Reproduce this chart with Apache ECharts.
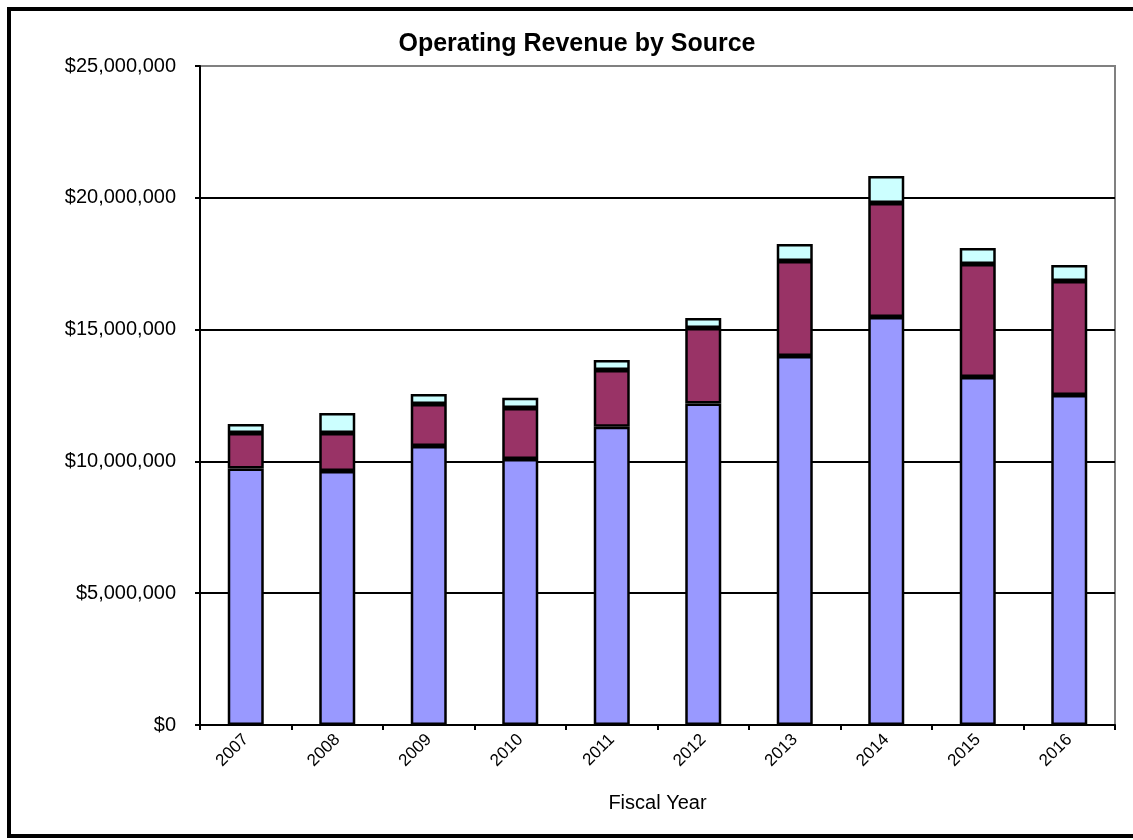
<!DOCTYPE html>
<html>
<head>
<meta charset="utf-8">
<script src="https://cdn.jsdelivr.net/npm/echarts@6/dist/echarts.min.js"></script>
<style>html,body{margin:0;padding:0;background:#fff}#c{width:1133px;height:840px}</style>
</head>
<body>
<div id="c"></div>
<script>
const years = ['2007','2008','2009','2010','2011','2012','2013','2014','2015','2016'];
const sourceA = [9730000, 9640000, 10580000, 10090000, 11310000, 12200000, 14000000, 15480000, 13200000, 12520000];
const sourceB = [1350000, 1440000, 1600000, 1940000, 2160000, 2860000, 3600000, 4320000, 4290000, 4320000];
const sourceC = [340000, 760000, 380000, 380000, 380000, 380000, 650000, 1030000, 610000, 610000];
const yTicks = [0, 5000000, 10000000, 15000000, 20000000, 25000000];

function money(v){ return '$' + String(Math.round(v)).replace(/\B(?=(\d{3})+(?!\d))/g, ','); }

const chart = echarts.init(document.getElementById('c'), null, {renderer:'canvas'});
const font = '"Liberation Sans", Arial, sans-serif';
const barStyle = (c) => ({color:c, borderColor:'#000', borderWidth:2.5});
chart.setOption({
  animation:false,
  backgroundColor:'#fff',
  title:{text:'Operating Revenue by Source', left:572, top:27, textAlign:'center',
    textStyle:{fontFamily:font, fontSize:25, fontWeight:'bold', color:'#000'}},
  grid:{left:200, top:66, right:18, bottom:115, show:true, borderColor:'#808080', borderWidth:2, backgroundColor:'transparent'},
  xAxis:{type:'category', data:years, boundaryGap:true,
    name:'Fiscal Year', nameLocation:'middle', nameGap:68,
    nameTextStyle:{fontFamily:font, fontSize:20, color:'#000'},
    axisLine:{lineStyle:{color:'#000', width:2}},
    axisTick:{show:true, length:5, lineStyle:{color:'#000', width:2}, alignWithLabel:false},
    axisLabel:{rotate:45, fontFamily:font, fontSize:17, color:'#000', margin:12}},
  yAxis:{type:'value', min:yTicks[0], max:yTicks[yTicks.length-1], interval:yTicks[1]-yTicks[0],
    axisLine:{show:true, lineStyle:{color:'#000', width:2}},
    axisTick:{show:true, length:5, lineStyle:{color:'#000', width:2}},
    axisLabel:{formatter:money, fontFamily:font, fontSize:20, color:'#000', margin:24},
    splitLine:{show:true, lineStyle:{color:['#000','#000','#000','#000','#000','#808080'], width:2}}},
  series:[
    {name:'Source A', type:'bar', stack:'t', data:sourceA, barWidth:36, itemStyle:barStyle('#9999FF')},
    {name:'Source B', type:'bar', stack:'t', data:sourceB, barWidth:36, itemStyle:barStyle('#993366')},
    {name:'Source C', type:'bar', stack:'t', data:sourceC, barWidth:36, itemStyle:barStyle('#CCFFFF')}
  ],
  graphic:[{type:'rect', shape:{x:9, y:9, width:1140, height:827}, style:{fill:null, stroke:'#000', lineWidth:4}, z:100}]
});
</script>
</body>
</html>
